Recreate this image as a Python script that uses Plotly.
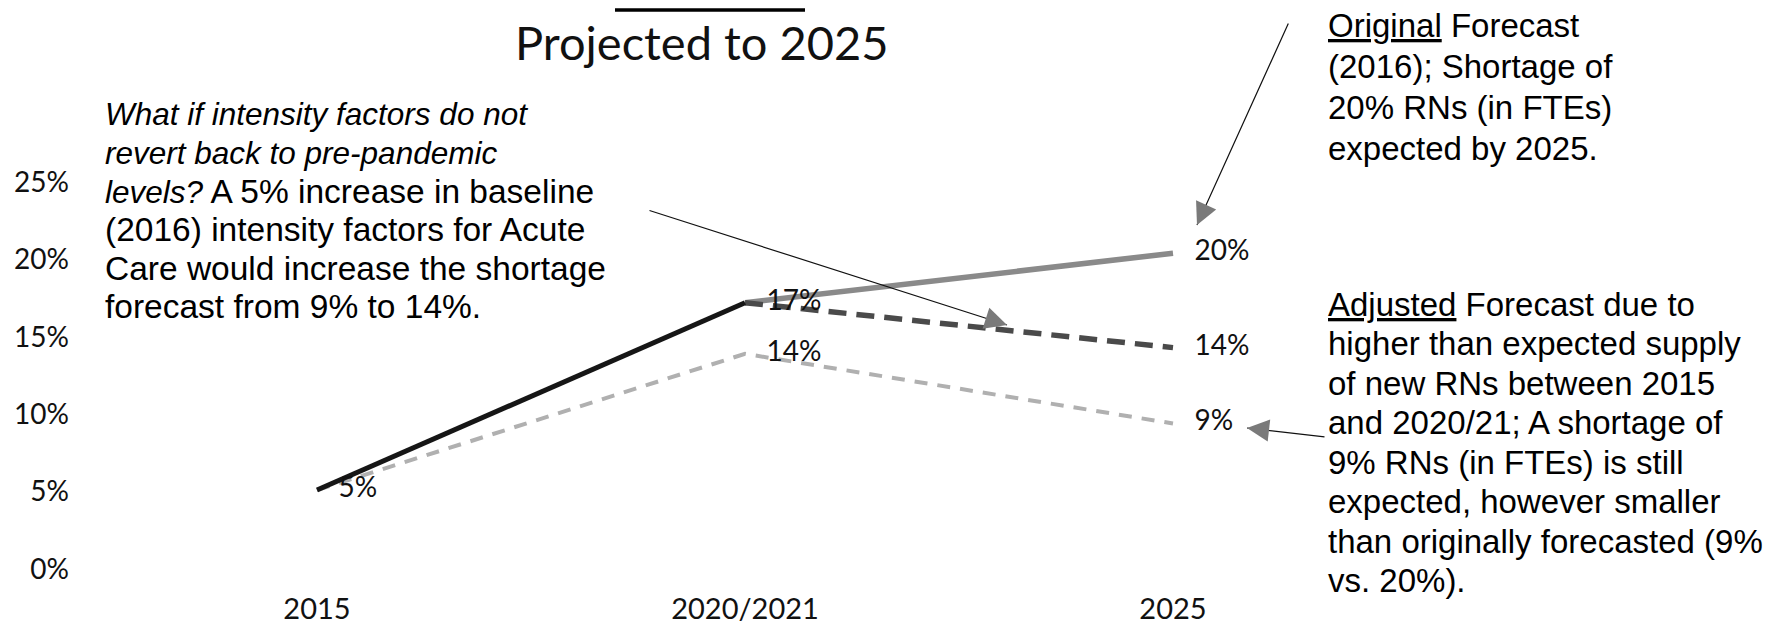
import plotly.graph_objects as go

# ---------------- data ----------------
categories = ["2015", "2020/2021", "2025"]
actual = [0.051, 0.172, None]            # black solid segment 2015 -> 2020/21
original = [None, 0.172, 0.204]          # original forecast (grey solid)
intensity = [None, 0.172, 0.143]         # intensity scenario (dark dashed)
adjusted = [0.051, 0.139, 0.094]         # adjusted forecast (light dashed)

actual_labels = ["5%", "17%", ""]
original_labels = ["", "", "20%"]
intensity_labels = ["", "", "14%"]
adjusted_labels = ["", "14%", "9%"]

y_ticks = [0, 0.05, 0.10, 0.15, 0.20, 0.25]

# ---------------- geometry helpers ----------------
O = 8                      # page offset of the figure div (body margin)
W, H = 1783 - O, 625 - O
L, R, T, B = 103, 1387, 182, 569   # plot area in page pixels


def P(X, Y):
    return (X - L) / (R - L), (B - Y) / (B - T)


NB = "\u00a0"
lab_font = dict(family="Lato", size=28, color="#111111")


def pad(lst):
    return [(NB * 3 + s) if s else "" for s in lst]


fig = go.Figure()
fig.add_trace(go.Scatter(x=categories, y=original, mode="lines+text",
                         line=dict(color="#8a8a8a", width=5.5),
                         text=pad(original_labels), textposition="middle right",
                         textfont=lab_font, cliponaxis=False, hoverinfo="skip"))
fig.add_trace(go.Scatter(x=categories, y=adjusted, mode="lines+text",
                         line=dict(color="#b0b0b0", width=4, dash="13px,10px"),
                         text=pad(adjusted_labels), textposition="middle right",
                         textfont=lab_font, cliponaxis=False, hoverinfo="skip"))
fig.add_trace(go.Scatter(x=categories, y=intensity, mode="lines+text",
                         line=dict(color="#4a4a4a", width=5.5, dash="18px,10px"),
                         text=pad(intensity_labels), textposition="middle right",
                         textfont=lab_font, cliponaxis=False, hoverinfo="skip"))
fig.add_trace(go.Scatter(x=categories, y=actual, mode="lines+text",
                         line=dict(color="#161616", width=5),
                         text=pad(actual_labels), textposition="middle right",
                         textfont=lab_font, cliponaxis=False, hoverinfo="skip"))

annotations = []

# title (second line visible)
tx, ty = P(701, 42)
annotations.append(dict(x=tx, y=ty, xref="paper", yref="paper", text="Projected to 2025",
                        showarrow=False, xanchor="center", yanchor="middle",
                        font=dict(family="Lato", size=47, color="#111111")))

txt_font = dict(family="Liberation Sans", size=33.5, color="#000000")
IT = '<i><span style="font-size:31.5px">{}</span></i>'

left_lines = [
    IT.format("What if intensity factors do not"),
    IT.format("revert back to pre-pandemic"),
    IT.format("levels?") + " A 5% increase in baseline",
    "(2016) intensity factors for Acute",
    "Care would increase the shortage",
    "forecast from 9% to 14%.",
]
for i, s in enumerate(left_lines):
    x, y = P(103, 114 + i * 38.5)
    annotations.append(dict(x=x, y=y, xref="paper", yref="paper", text=s, showarrow=False,
                            xanchor="left", yanchor="middle", font=txt_font))

U = '<span style="text-decoration:underline">{}</span>'
rfont = dict(family="Liberation Sans", size=33, color="#000000")
right1 = [
    U.format("Original") + " Forecast",
    "(2016); Shortage of",
    "20% RNs (in FTEs)",
    "expected by 2025.",
]
for i, s in enumerate(right1):
    x, y = P(1326, 25 + i * 41)
    annotations.append(dict(x=x, y=y, xref="paper", yref="paper", text=s, showarrow=False,
                            xanchor="left", yanchor="middle", font=rfont))

right2 = [
    U.format("Adjusted") + " Forecast due to",
    "higher than expected supply",
    "of new RNs between 2015",
    "and 2020/21; A shortage of",
    "9% RNs (in FTEs) is still",
    "expected, however smaller",
    "than originally forecasted (9%",
    "vs. 20%).",
]
for i, s in enumerate(right2):
    x, y = P(1326, 304 + i * 39.5)
    annotations.append(dict(x=x, y=y, xref="paper", yref="paper", text=s, showarrow=False,
                            xanchor="left", yanchor="middle", font=rfont))


def arrow(tail, tip):
    x, y = P(*tip)
    dx, dy = tail[0] - tip[0], tail[1] - tip[1]
    n = (dx * dx + dy * dy) ** 0.5
    annotations.append(dict(x=x, y=y, xref="paper", yref="paper", ax=dx, ay=dy,
                            axref="pixel", ayref="pixel", text="", showarrow=True,
                            arrowhead=0, arrowwidth=1.2, arrowcolor="#111111", standoff=0))
    annotations.append(dict(x=x, y=y, xref="paper", yref="paper",
                            ax=dx / n * 16, ay=dy / n * 16,
                            axref="pixel", ayref="pixel", text="", showarrow=True,
                            arrowhead=2, arrowsize=3.4, arrowwidth=1.3,
                            arrowcolor="#7a7a7a", standoff=0))


arrow((648, 210), (1007, 325))
arrow((1289, 22), (1197, 225))
arrow((1326, 437), (1247, 428))

fig.update_layout(
    template="none",
    width=W, height=H, autosize=False,
    margin=dict(l=L - O, r=W - (R - O), t=T - O, b=H - (B - O), pad=0),
    paper_bgcolor="white", plot_bgcolor="white",
    showlegend=False,
    annotations=annotations,
    shapes=[dict(type="line", xref="paper", yref="paper",
                 x0=P(615, 10)[0], x1=P(805, 10)[0], y0=P(615, 10)[1], y1=P(805, 10)[1],
                 line=dict(color="#000000", width=3.5))],
    xaxis=dict(type="category", range=[-0.5, 2.5], showgrid=False, zeroline=False,
               showline=False, ticks="", ticklabelstandoff=20, automargin=False,
               tickfont=dict(family="Lato", size=29, color="#111111")),
    yaxis=dict(range=[0, 0.25], tickvals=y_ticks, tickformat=".0%", showgrid=False,
               zeroline=False, showline=False, ticks="", ticklabelstandoff=33,
               automargin=False,
               tickfont=dict(family="Lato", size=28, color="#111111")),
)

fig.write_html("out.html")
